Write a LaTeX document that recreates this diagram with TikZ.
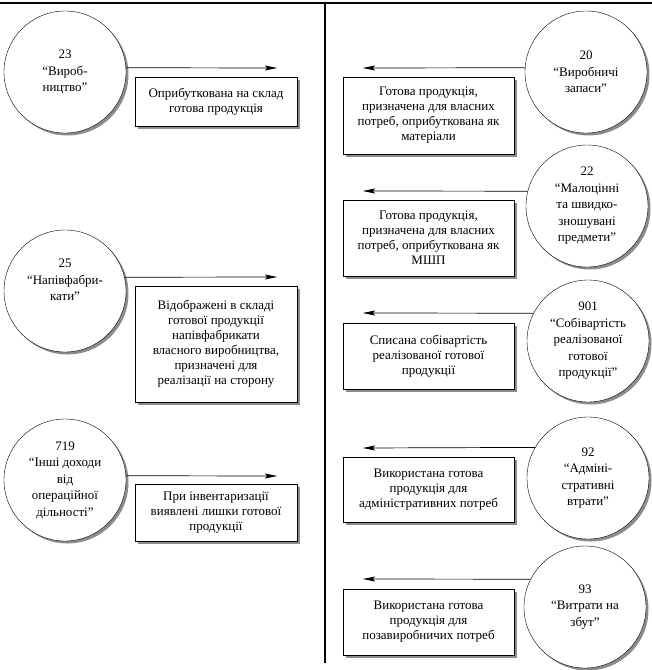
\documentclass[tikz,border=0pt]{standalone}
\usepackage{fontspec}
\setmainfont{Liberation Serif}
\usetikzlibrary{shapes.geometric, arrows.meta, shadows}
\tikzstyle{acc} = [circle, draw, fill=white, minimum size=122pt, inner sep=0pt, align=center, font=\fontsize{13}{16.5}\selectfont, drop shadow={shadow xshift=2.5pt, shadow yshift=-2.5pt, fill=black!45, opacity=1}]
\tikzstyle{op} = [rectangle, draw, fill=white, align=center, font=\fontsize{13}{15}\selectfont, drop shadow={shadow xshift=2.5pt, shadow yshift=-2.5pt, fill=black!45, opacity=1}]
\tikzstyle{opl} = [op, minimum width=162pt]
\tikzstyle{opr} = [op, minimum width=171pt]
\tikzstyle{arrow} = [line width=0.7pt, -{Stealth[length=12pt, width=5pt, inset=2pt]}]
\tikzstyle{rule} = [line width=2pt]

\begin{document}
\begin{tikzpicture}[x=1pt, y=-1pt]
        \useasboundingbox (0,0) rectangle (652,670);
        \draw [rule] (0,2.5) -- (652,2.5);
        \draw [rule] (325,2) -- (325,663);
        \node [acc] at (65,72) (c23) {23\\“Вироб-\\ництво”};
        \node [acc] at (65,291) (c25) {25\\“Напівфабри-\\кати”\\[6pt]\mbox{}};
        \node [acc] at (65,480) (c719) {719\\“Інші доходи\\від\\операційної\\дільності”};
        \node [acc] at (586,72) (c20) {20\\“Виробничі\\запаси”};
        \node [acc] at (587,206) (c22) {22\\“Малоцінні\\та швидко-\\зношувані\\предмети”};
        \node [acc] at (588,341) (c901) {901\\“Собівартість\\реалізованої\\готової\\продукції”};
        \node [acc] at (588,478) (c92) {92\\“Адміні-\\стративні\\втрати”};
        \node [acc] at (585,607) (c93) {93\\“Витрати на\\збут”};
        \node [opl, minimum height=49pt] at (216,101.5) (b23) {Оприбуткована на склад\\готова продукція};
        \node [opl, minimum height=116pt] at (216,344) (b25) {Відображені в складі\\готової продукції\\напівфабрикати\\власного виробництва,\\призначені для\\реалізації на сторону};
        \node [opl, minimum height=57pt] at (216,512.5) (b719) {При інвентаризації\\виявлені лишки готової\\продукції};
        \node [opr, minimum height=77pt] at (428.5,115.5) (b20) {Готова продукція,\\призначена для власних\\потреб, оприбуткована як\\матеріали};
        \node [opr, minimum height=76pt] at (428.5,238) (b22) {Готова продукція,\\призначена для власних\\потреб, оприбуткована як\\МШП};
        \node [opr, minimum height=66pt] at (428.5,356) (b901) {Списана собівартість\\реалізованої готової\\продукції};
        \node [opr, minimum height=65pt] at (428.5,489.5) (b92) {Використана готова\\продукція для\\адміністративних потреб};
        \node [opr, minimum height=66pt] at (428.5,622) (b93) {Використана готова\\продукція для\\позавиробничих потреб};
        \coordinate (e23) at (277,68);
        \coordinate (e25) at (277,277);
        \coordinate (e719) at (277,476);
        \coordinate (e20) at (363,68);
        \coordinate (e22) at (363,191);
        \coordinate (e901) at (363,313);
        \coordinate (e92) at (363,448);
        \coordinate (e93) at (363,579);
        \draw [arrow] (c23.4) -- (e23);
        \draw [arrow] (c25.13) -- (e25);
        \draw [arrow] (c719.4) -- (e719);
        \draw [arrow] (c20.176) -- (e20);
        \draw [arrow] (c22.166) -- (e22);
        \draw [arrow] (c901.153) -- (e901);
        \draw [arrow] (c92.150) -- (e92);
        \draw [arrow] (c93.153) -- (e93);
        \end{tikzpicture}
\end{document}
